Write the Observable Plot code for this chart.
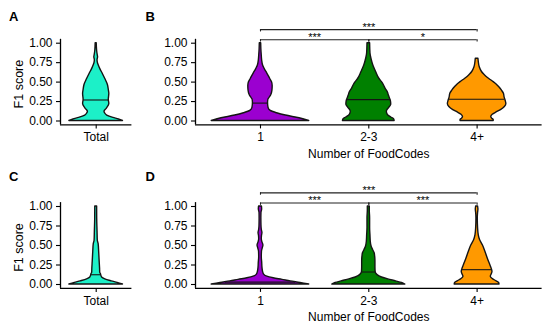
<!DOCTYPE html>
<html><head><meta charset="utf-8">
<script src="https://cdn.jsdelivr.net/npm/d3@7"></script>
<script src="https://cdn.jsdelivr.net/npm/@observablehq/plot@0.6"></script>
<style>
body{margin:0;background:#fff;}
#wrap{position:relative;width:550px;height:331px;font-family:"Liberation Sans",Arial,sans-serif;background:#fff;overflow:hidden;}
.panel{position:absolute;}
.tag{position:absolute;font-weight:bold;font-size:13px;line-height:1;color:#000;}
</style></head><body><div id="wrap"></div>
<script>
// ---------- data ----------
const totalCats = ["Total"];
const codeCats = ["1", "2-3", "4+"];
const yTicks = [0, 0.25, 0.5, 0.75, 1];
const xTitle = "Number of FoodCodes";
const yTitle = "F1 score";
const fills = {"Total": "#1CF0C8", "1": "#9B00D0", "2-3": "#008000", "4+": "#FF9900"};

// violin profiles: [F1 score, relative half-width]
const densTotalA = [[0,1],[0.02,0.85],[0.04,0.64],[0.07,0.41],[0.10,0.33],[0.12,0.31],[0.16,0.40],[0.22,0.49],[0.27,0.47],[0.35,0.49],[0.40,0.47],[0.46,0.44],[0.54,0.34],[0.61,0.24],[0.67,0.15],[0.71,0.10],[0.75,0.06],[0.78,0.05],[0.82,0.07],[0.84,0.06],[0.90,0.035],[0.95,0.025],[1,0.02]];
const dens1B = [[0,1],[0.015,0.93],[0.035,0.80],[0.07,0.52],[0.10,0.34],[0.13,0.21],[0.17,0.165],[0.23,0.155],[0.27,0.16],[0.33,0.22],[0.39,0.245],[0.45,0.25],[0.50,0.235],[0.54,0.20],[0.61,0.14],[0.67,0.085],[0.71,0.055],[0.78,0.034],[0.85,0.025],[0.92,0.018],[1,0.014]];
const dens23B = [[0,0.53],[0.02,0.52],[0.045,0.46],[0.08,0.39],[0.12,0.37],[0.17,0.42],[0.21,0.46],[0.25,0.455],[0.28,0.44],[0.33,0.41],[0.37,0.39],[0.42,0.34],[0.46,0.31],[0.50,0.27],[0.54,0.22],[0.63,0.15],[0.71,0.095],[0.80,0.054],[0.87,0.034],[1,0.027]];
const dens4B = [[0,0.34],[0.015,0.34],[0.03,0.31],[0.05,0.29],[0.08,0.32],[0.11,0.40],[0.14,0.49],[0.18,0.57],[0.22,0.60],[0.26,0.585],[0.30,0.565],[0.35,0.55],[0.39,0.51],[0.43,0.46],[0.47,0.40],[0.50,0.34],[0.54,0.25],[0.57,0.19],[0.60,0.14],[0.63,0.10],[0.69,0.054],[0.76,0.034],[0.80,0.027]];
const densTotalC = [[0,1],[0.02,0.8],[0.04,0.58],[0.065,0.34],[0.09,0.22],[0.115,0.19],[0.13,0.18],[0.15,0.15],[0.2,0.145],[0.29,0.13],[0.42,0.11],[0.52,0.09],[0.56,0.06],[0.68,0.05],[0.85,0.037],[1,0.035]];
const dens1D = [[0,1],[0.02,0.82],[0.04,0.62],[0.06,0.45],[0.08,0.27],[0.10,0.14],[0.13,0.07],[0.17,0.05],[0.22,0.04],[0.28,0.035],[0.35,0.027],[0.42,0.03],[0.46,0.045],[0.50,0.06],[0.54,0.04],[0.58,0.027],[0.62,0.03],[0.66,0.04],[0.70,0.027],[0.76,0.02],[0.85,0.018],[0.92,0.02],[0.96,0.034],[1,0.03]];
const dens23D = [[0,0.75],[0.02,0.68],[0.04,0.56],[0.065,0.40],[0.09,0.27],[0.12,0.18],[0.16,0.14],[0.22,0.136],[0.30,0.136],[0.36,0.13],[0.40,0.12],[0.44,0.09],[0.48,0.06],[0.55,0.04],[0.63,0.034],[0.72,0.027],[0.85,0.027],[0.95,0.02],[1,0.02]];
const dens4D = [[0,0.46],[0.02,0.45],[0.04,0.40],[0.07,0.32],[0.10,0.28],[0.13,0.30],[0.16,0.315],[0.20,0.30],[0.25,0.27],[0.33,0.22],[0.42,0.17],[0.50,0.12],[0.57,0.06],[0.63,0.034],[0.72,0.02],[0.85,0.014],[0.92,0.02],[0.96,0.027],[1,0.02]];

// medians: [F1 score, relative half-width at median]
const medA = {"Total": [0.27, 0.465]};
const medB = {"1": [0.23, 0.157], "2-3": [0.275, 0.44], "4+": [0.28, 0.565]};
const medC = {"Total": [0.125, 0.18]};
const medD = {"1": [0.03, 0.72], "2-3": [0.16, 0.14], "4+": [0.19, 0.305]};

// significance brackets (category indices, bracket height, label)
const sigB = [{a:1,b:2,level:1.045,label:"***"},{a:2,b:3,level:1.045,label:"*"},{a:1,b:3,level:1.175,label:"***"}];
const sigD = [{a:1,b:2,level:1.045,label:"***"},{a:2,b:3,level:1.045,label:"***"},{a:1,b:3,level:1.175,label:"***"}];

// ---------- drawing ----------
const HALF = 0.45;
const ink = "#141414";
const wrap = document.getElementById("wrap");

function violinPanel(cfg) {
  const n = cfg.cats.length;
  const xd = [0.4, n + 0.6];
  const marks = [];
  cfg.cats.forEach((c, i) => {
    const cx = i + 1;
    const rows = cfg.dens[c].map(([v, w]) => ({v, lo: cx - w * HALF, hi: cx + w * HALF}));
    marks.push(Plot.areaX(rows, {y: "v", x1: "lo", x2: "hi", fill: fills[c], stroke: ink, strokeWidth: 1.4, strokeLinejoin: "round", curve: "monotone-y"}));
    const [mv, mw] = cfg.med[c];
    marks.push(Plot.ruleY([mv], {x1: cx - mw * HALF, x2: cx + mw * HALF, stroke: ink, strokeWidth: 1.1}));
  });
  // axis lines
  marks.push(Plot.ruleX([xd[0]], {y1: -0.05, y2: 1.05, stroke: "#000", strokeWidth: 1.3}));
  marks.push(Plot.ruleY([-0.05], {x1: xd[0], x2: xd[1], stroke: "#000", strokeWidth: 1.3}));
  marks.push(Plot.axisY({ticks: yTicks, tickFormat: d3.format(".2f"), tickSize: 4, tickPadding: 4, fontSize: 12, label: null, stroke: "#000", strokeWidth: 1.1}));
  marks.push(Plot.axisX({ticks: d3.range(1, n + 1), tickFormat: d => cfg.cats[d - 1], tickSize: 4, tickPadding: 4, fontSize: 12, label: null, stroke: "#000", strokeWidth: 1.1}));
  if (cfg.yTitle) {
    marks.push(Plot.text([cfg.yTitle], {frameAnchor: "left", textAnchor: "middle", lineAnchor: "middle", rotate: -90, dx: -42, dy: 2, fontSize: 12.5}));
  }
  if (cfg.xTitle) {
    marks.push(Plot.text([cfg.xTitle], {frameAnchor: "bottom", textAnchor: "middle", lineAnchor: "middle", dy: cfg.titleDy, fontSize: 12}));
  }
  if (cfg.sig) {
    const tip = 0.03;
    const ends = cfg.sig.flatMap(d => [{x: d.a, level: d.level}, {x: d.b, level: d.level}]);
    marks.push(Plot.ruleY(cfg.sig, {y: "level", x1: "a", x2: "b", stroke: "#222", strokeWidth: 1.1}));
    marks.push(Plot.ruleX(ends, {x: "x", y1: d => d.level - tip, y2: "level", stroke: "#222", strokeWidth: 1.1}));
    marks.push(Plot.text(cfg.sig, {x: d => (d.a + d.b) / 2, y: "level", text: "label", lineAnchor: "bottom", dy: 1.5, fontSize: 11, fill: "#000"}));
  }
  const svg = Plot.plot({
    width: cfg.width, height: cfg.height,
    marginLeft: cfg.ml, marginRight: cfg.mr, marginTop: cfg.mt, marginBottom: cfg.mb,
    x: {domain: xd}, y: {domain: [-0.05, 1.05]},
    style: {fontFamily: '"Liberation Sans", Arial, sans-serif', fontSize: "12px", color: "#000", background: "transparent", overflow: "visible"},
    marks
  });
  svg.classList.add("panel");
  svg.style.left = cfg.left + "px";
  svg.style.top = cfg.top + "px";
  wrap.appendChild(svg);
}

function tag(letter, left, top) {
  const d = document.createElement("div");
  d.className = "tag";
  d.textContent = letter;
  d.style.left = left + "px";
  d.style.top = top + "px";
  wrap.appendChild(d);
}

const topRow = {top: 0, height: 163, mt: 38.81, mb: 38.61, titleDy: 29};
const botRow = {top: 163, height: 168, mt: 39.1, mb: 43.1, titleDy: 28.3};
const narrow = {left: 0, width: 135, ml: 60, mr: 3.6};
const wide = {left: 135, width: 415, ml: 60, mr: 8.4};

violinPanel({...topRow, ...narrow, cats: totalCats, dens: {"Total": densTotalA}, med: medA, yTitle});
violinPanel({...topRow, ...wide, cats: codeCats, dens: {"1": dens1B, "2-3": dens23B, "4+": dens4B}, med: medB, xTitle, sig: sigB});
violinPanel({...botRow, ...narrow, cats: totalCats, dens: {"Total": densTotalC}, med: medC, yTitle});
violinPanel({...botRow, ...wide, cats: codeCats, dens: {"1": dens1D, "2-3": dens23D, "4+": dens4D}, med: medD, xTitle, sig: sigD});

tag("A", 9, 9.5);
tag("B", 145.5, 9.5);
tag("C", 9, 169.5);
tag("D", 145.5, 169.5);
</script>
</body></html>
